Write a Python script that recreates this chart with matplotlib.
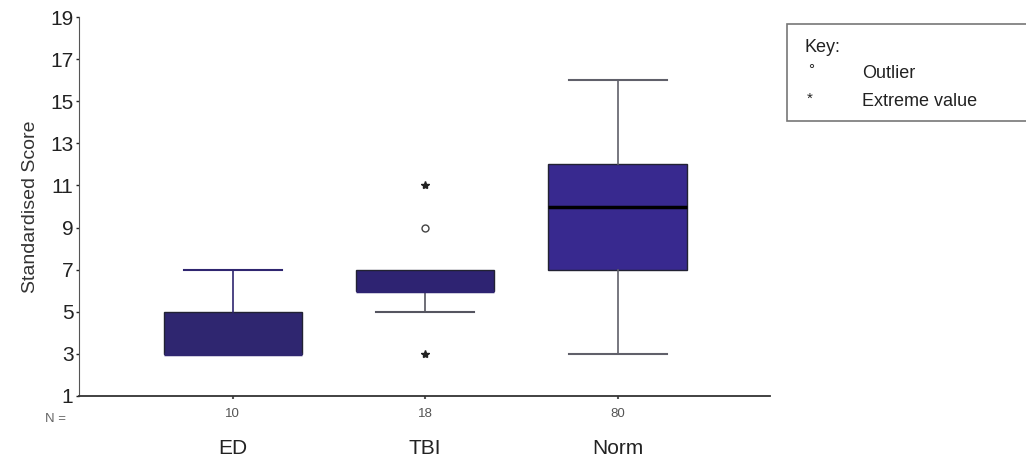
import matplotlib.pyplot as plt
from matplotlib.patches import Rectangle

plt.rcParams['font.family'] = ['Liberation Sans', 'DejaVu Sans']

groups = ["ED", "TBI", "Norm"]
counts = [10, 18, 80]
q1 = [3, 6, 7]
med = [3, 6, 10]
q3 = [5, 7, 12]
whis_lo = [3, 5, 3]
whis_hi = [7, 7, 16]
outliers = [[], [9], []]
extremes = [[], [11, 3], []]

box_colors = ["#2f2670", "#2e2372", "#38298f"]
whisker_colors = ["#2f2670", "#555560", "#60606a"]

fig = plt.figure(figsize=(10.26, 4.62), dpi=100)
ax = fig.add_axes([0.077, 0.143, 0.673, 0.820])

positions = [1, 2, 3]

for i in range(len(groups)):
    s = {"med": med[i], "q1": q1[i], "q3": q3[i],
         "whislo": whis_lo[i], "whishi": whis_hi[i], "fliers": []}
    art = ax.bxp([s], positions=[positions[i]], widths=0.72, capwidths=0.51,
                 patch_artist=True, showfliers=False,
                 boxprops=dict(facecolor=box_colors[i], edgecolor="#222233", linewidth=1),
                 medianprops=dict(color="black" if i == 2 else box_colors[i], linewidth=2.5),
                 whiskerprops=dict(color=whisker_colors[i], linewidth=1.2),
                 capprops=dict(color=whisker_colors[i], linewidth=1.5))
    # hide caps for zero-length whiskers
    if whis_lo[i] == q1[i]:
        art["caps"][0].set_visible(False)
    if whis_hi[i] == q3[i]:
        art["caps"][1].set_visible(False)

for i in range(len(groups)):
    if outliers[i]:
        ax.plot([positions[i]] * len(outliers[i]), outliers[i], "o", ms=5,
                mfc="white", mec="#444444", mew=1)
    if extremes[i]:
        ax.plot([positions[i]] * len(extremes[i]), extremes[i], "*", ms=6,
                color="#222222")

ax.set_xlim(0.2, 3.79)
ax.set_ylim(1, 19)
ax.set_yticks(range(1, 20, 2))
ax.tick_params(axis="y", labelsize=15, length=2, width=1, pad=2, colors="#222222")
ax.set_xticks(positions)
ax.set_xticklabels([str(c) for c in counts])
ax.tick_params(axis="x", labelsize=9.5, length=2, width=1.5, colors="#555555", pad=7)
for lbl in ax.get_xticklabels():
    lbl.set_color("#555555")
for lbl in ax.get_yticklabels():
    lbl.set_color("#222222")

ax.spines["top"].set_visible(False)
ax.spines["right"].set_visible(False)
ax.spines["left"].set_color("#555555")
ax.spines["bottom"].set_color("#333333")
ax.spines["bottom"].set_linewidth(1.3)

ax.set_ylabel("Standardised Score", fontsize=14, color="#333333", labelpad=8)

ax.text(0.13, -0.045, "N =", transform=ax.get_xaxis_transform(), fontsize=9.5,
        color="#666666", ha="right", va="top")
for i, g in enumerate(groups):
    ax.text(positions[i], -0.14, g, transform=ax.get_xaxis_transform(),
            fontsize=15, color="#222222", ha="center", va="center")

# key box
fig.patches.append(Rectangle((787 / 1026, 1 - 121 / 462), 0.25, 97 / 462,
                             transform=fig.transFigure, facecolor="white",
                             edgecolor="#777777", linewidth=1.2, clip_on=False))
fig.text(805 / 1026, 1 - 48 / 462, "Key:", fontsize=13, color="#222222", va="center")
fig.text(808 / 1026, 1 - 70 / 462, "°", fontsize=11, color="#222222", va="center")
fig.text(862 / 1026, 1 - 74 / 462, "Outlier", fontsize=13, color="#222222", va="center")
fig.text(807 / 1026, 1 - 99 / 462, "*", fontsize=11, color="#222222", va="center")
fig.text(862 / 1026, 1 - 101 / 462, "Extreme value", fontsize=13, color="#222222", va="center")

fig.savefig("out.png", dpi=100)
